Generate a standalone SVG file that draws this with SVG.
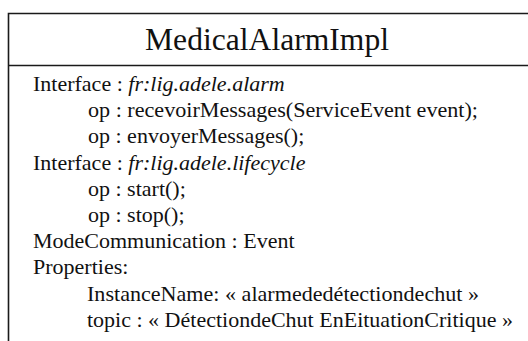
<svg xmlns="http://www.w3.org/2000/svg" width="528" height="341" viewBox="0 0 528 341">
<style>
.b{stroke:#1a1a1a;stroke-width:1.6;fill:none}
text{font-family:'Liberation Serif','Times New Roman',Tinos,'Noto Serif','DejaVu Serif',serif;fill:#111;font-size:22px}
text.h{font-size:31.5px}
.i{font-style:italic}
</style>
<rect width="528" height="341" fill="#fff"/>
<g id="MedicalAlarmImpl">
<path class="b" d="M8.5,341 V13.5 H528 M8,65.5 H528"/>
<text class="h" x="145" y="50" textLength="244" lengthAdjust="spacingAndGlyphs">MedicalAlarmImpl</text>
<text x="33" y="91">Interface : <tspan class="i">fr:lig.adele.alarm</tspan></text>
<text x="88" y="117.2" textLength="390" lengthAdjust="spacingAndGlyphs">op : recevoirMessages(ServiceEvent event);</text>
<text x="88" y="143.4">op : envoyerMessages();</text>
<text x="33" y="169.6">Interface : <tspan class="i">fr:lig.adele.lifecycle</tspan></text>
<text x="88" y="195.8">op : start();</text>
<text x="88" y="222">op : stop();</text>
<text x="33" y="248.2">ModeCommunication : Event</text>
<text x="33" y="274.4">Properties:</text>
<text x="87" y="300.6" textLength="392" lengthAdjust="spacingAndGlyphs">InstanceName: « alarmededétectiondechut »</text>
<text x="87" y="326.8" textLength="426" lengthAdjust="spacingAndGlyphs">topic : « DétectiondeChut EnEituationCritique »</text>
</g>
</svg>
